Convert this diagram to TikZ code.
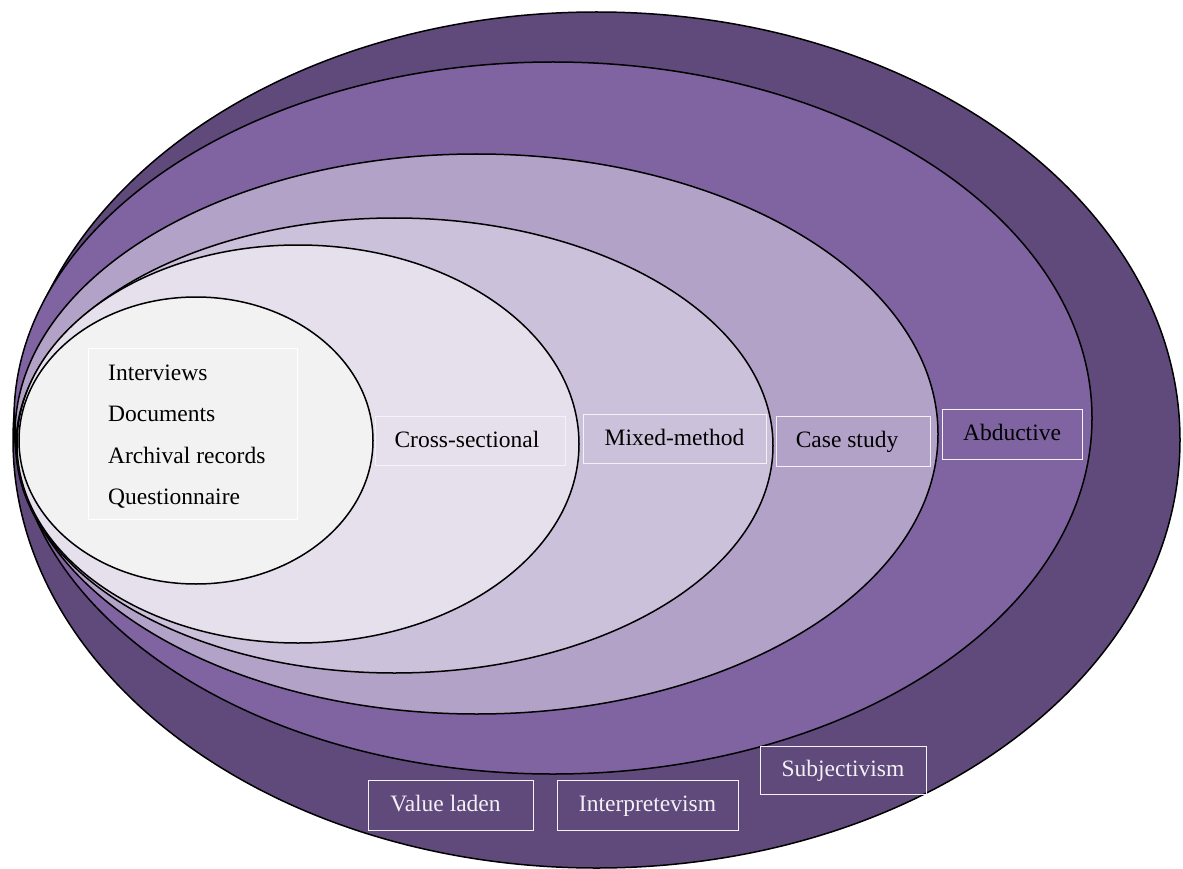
\documentclass[tikz,border=0pt]{standalone}
\usepackage{fontspec}
\setmainfont{Liberation Serif}
\definecolor{ringA}{HTML}{604A7B}
\definecolor{ringB}{HTML}{8064A2}
\definecolor{ringC}{HTML}{B3A2C7}
\definecolor{ringD}{HTML}{CCC1DA}
\definecolor{ringE}{HTML}{E6E0EC}
\definecolor{ringF}{HTML}{F2F2F2}
\definecolor{boxline}{HTML}{F4F2F7}
\definecolor{lighttext}{HTML}{F2F0F5}
\tikzset{
  ring/.style={draw=black, line width=1.5pt},
  labelbox/.style={draw=boxline, line width=0.8pt, inner sep=0pt,
    font=\fontsize{23.5}{28}\selectfont, text height=17pt, text depth=4pt,
    align=center},
  darklabel/.style={labelbox, text=black},
  lightlabel/.style={labelbox, text=lighttext}
}
\begin{document}
\begin{tikzpicture}[x=1pt,y=-1pt]
\useasboundingbox (0,0) rectangle (1183,869);

% nested research-onion layers, outermost first
\filldraw[ring, fill=ringA] (596.5,440) ellipse [x radius=583.5pt, y radius=428pt];
\filldraw[ring, fill=ringB] (553,418) ellipse [x radius=539pt, y radius=356pt];
\filldraw[ring, fill=ringC] (476.5,434) ellipse [x radius=461.5pt, y radius=280pt];
\filldraw[ring, fill=ringD] (394.5,445.5) ellipse [x radius=378.5pt, y radius=227.5pt];
\filldraw[ring, fill=ringE] (298,444) ellipse [x radius=281pt, y radius=199pt];
\filldraw[ring, fill=ringF] (196,440.5) ellipse [x radius=177pt, y radius=143.5pt];

% data collection methods
\node[draw=white, line width=0.8pt, minimum width=209pt, minimum height=171pt,
      inner sep=0pt] (listbox) at (192.5,433.5) {};
\node[anchor=base west, font=\fontsize{23.5}{28}\selectfont, inner sep=0pt] (m1) at (108,380) {Interviews};
\node[anchor=base west, font=\fontsize{23.5}{28}\selectfont, inner sep=0pt] (m2) at (108,421) {Documents};
\node[anchor=base west, font=\fontsize{23.5}{28}\selectfont, inner sep=0pt] (m3) at (108,463) {Archival records};
\node[anchor=base west, font=\fontsize{23.5}{28}\selectfont, inner sep=0pt] (m4) at (108,504) {Questionnaire};

% layer labels
\node[darklabel, minimum width=190pt, minimum height=49pt] (time) at (470,440.5) {\hspace*{-6pt}Cross-sectional};
\node[darklabel, minimum width=183pt, minimum height=49pt] (choice) at (674.5,438.5) {Mixed-method};
\node[darklabel, minimum width=154pt, minimum height=50pt] (strategy) at (853,441) {Case study\hspace*{12pt}};
\node[darklabel, minimum width=140pt, minimum height=50pt] (approach) at (1012,434) {Abductive};
\node[lightlabel, minimum width=166pt, minimum height=48pt] (ontology) at (843,770) {Subjectivism};
\node[lightlabel, minimum width=181pt, minimum height=50pt] (philosophy) at (647.5,805) {Interpretevism};
\node[lightlabel, minimum width=165pt, minimum height=50pt] (axiology) at (450.5,805) {Value laden\hspace*{10pt}};
\end{tikzpicture}
\end{document}
